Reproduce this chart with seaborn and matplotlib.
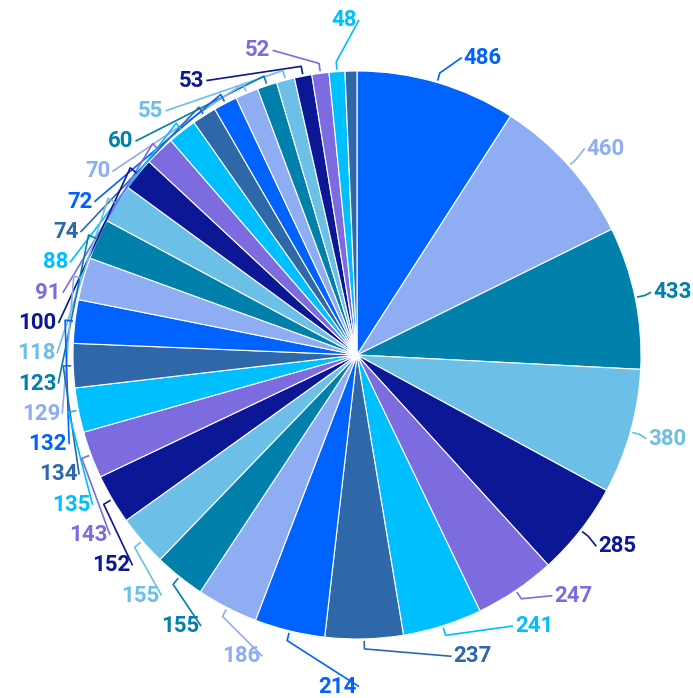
import matplotlib
matplotlib.use("Agg")
import matplotlib.pyplot as plt
import seaborn as sns
import numpy as np

# slice values, clockwise from 12 o'clock
values = [486, 460, 433, 380, 285, 247, 241, 237, 214, 186, 155, 155, 152, 143, 135, 134,
          132, 129, 123, 118, 100, 91, 88, 74, 72, 70, 60, 55, 53, 52, 48, 36]
# last slice has its label hidden in the original
show_label = [True] * 31 + [False]
palette = ["#0062ff", "#8fadf2", "#0080aa", "#6cbfe6", "#0b1795", "#7d6be0", "#00bfff", "#2e68a9"]
colors = [palette[i % len(palette)] for i in range(len(values))]

sns.set_style("white")
plt.rcParams["font.family"] = ["Roboto", "DejaVu Sans"]

W, H = 693, 698
fig = plt.figure(figsize=(W / 100, H / 100), dpi=100)
ax = fig.add_axes([0, 0, 1, 1])
cx, cy, r = 357, H - 355, 284

ax.pie(values, colors=colors, startangle=90, counterclock=False, radius=r, center=(cx, cy),
       wedgeprops=dict(edgecolor="white", linewidth=0.8))
ax.set_xlim(0, W)
ax.set_ylim(0, H)
ax.set_aspect("equal")
ax.axis("off")

# mid angle of every slice, degrees clockwise from the top
vals = np.array(values, dtype=float)
cum = np.concatenate([[0], np.cumsum(vals)]) / vals.sum() * 360
mid = (cum[:-1] + cum[1:]) / 2


def pt(theta, rad):
    t = np.radians(theta)
    return cx + rad * np.sin(t), cy + rad * np.cos(t)


R = 310            # radius used for the natural label height
ea, eb = 302, 318  # label ellipse (horizontal / vertical half axes)
gap = 30.3         # min vertical distance between labels
label_top = cy + 335


def ell_x(y):
    return ea * np.sqrt(max(1 - ((y - cy) / eb) ** 2, 0))


pos = {}
# left side: stack downward starting at the top
left = sorted([i for i in range(len(values)) if show_label[i] and mid[i] >= 180], key=lambda i: -mid[i])
prev = None
for i in left:
    nat = cy + R * np.cos(np.radians(mid[i]))
    y = label_top if prev is None else min(nat, prev - gap)
    pos[i] = (cx - ell_x(y), y, "right")
    prev = y

# right side: stack upward starting above the lowest left label
right = sorted([i for i in range(len(values)) if show_label[i] and mid[i] < 180], key=lambda i: -mid[i])
for i in right:
    nat = cy + R * np.cos(np.radians(mid[i]))
    y = max(nat, prev + gap)
    pos[i] = (cx + ell_x(y), y, "left")
    prev = y

for i, (x, y, ha) in pos.items():
    p0 = pt(mid[i], r + 2)
    p1 = pt(mid[i], r + 10)
    xl = x + 2 if ha == "right" else x - 2
    ax.plot([p0[0], p1[0], xl], [p0[1], p1[1], y],
            color=colors[i], lw=1.2, solid_capstyle="butt")
    ax.text(x, y, str(values[i]), ha=ha, va="center", color=colors[i],
            fontsize=16, fontweight="bold")

fig.savefig("out.png", dpi=100, facecolor="white")
